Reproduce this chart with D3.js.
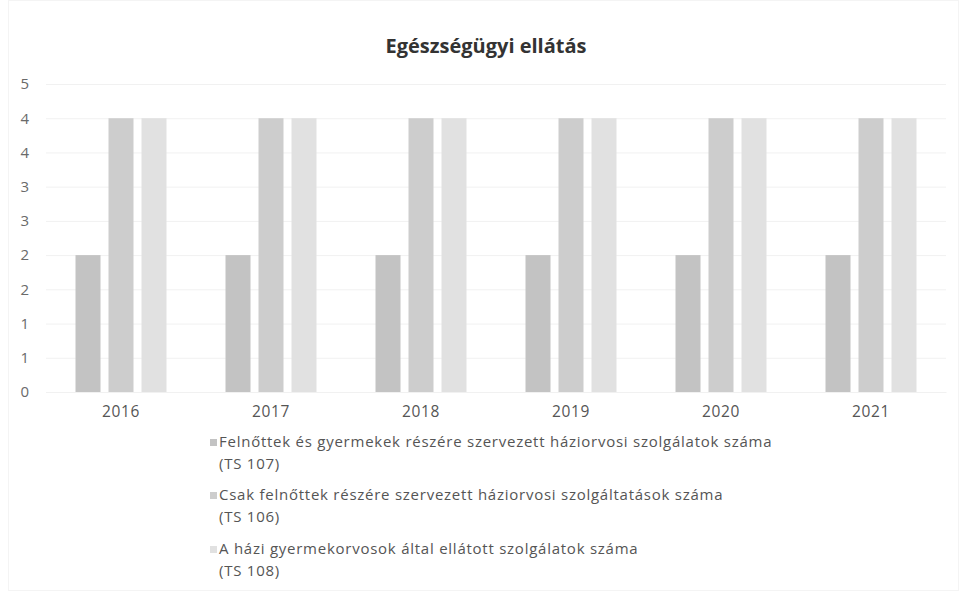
<!DOCTYPE html>
<html>
<head>
<meta charset="utf-8">
<script src="https://cdn.jsdelivr.net/npm/d3@7"></script>
<style>
  body { margin: 0; background: #fff; }
  svg, svg text { font-family: "Open Sans", sans-serif; }
</style>
</head>
<body>
<svg id="chart" width="960" height="593"></svg>
<script>
// data
const years = ['2016', '2017', '2018', '2019', '2020', '2021'];
const seriesNames = [
  ['Felnőttek és gyermekek részére szervezett háziorvosi szolgálatok száma', '(TS 107)'],
  ['Csak felnőttek részére szervezett háziorvosi szolgáltatások száma', '(TS 106)'],
  ['A házi gyermekorvosok által ellátott szolgálatok száma', '(TS 108)']
];
const ts107 = [2, 2, 2, 2, 2, 2];
const ts106 = [4, 4, 4, 4, 4, 4];
const ts108 = [4, 4, 4, 4, 4, 4];
const yTicks = [0, 0.5, 1, 1.5, 2, 2.5, 3, 3.5, 4, 4.5];
const colors = ['#c3c3c3', '#cdcdcd', '#e1e1e1'];

const allSeries = [ts107, ts106, ts108];

const svg = d3.select('#chart');
const margin = { left: 46, right: 14, top: 84, bottom: 201 };
const width = +svg.attr('width');
const height = +svg.attr('height');
const innerWidth = width - margin.left - margin.right;
const innerHeight = height - margin.top - margin.bottom;

// faint outer frame
svg.append('rect')
  .attr('x', 8.5).attr('y', 0.5)
  .attr('width', 950).attr('height', 590)
  .attr('fill', 'none')
  .attr('stroke', '#f4f4f4');

// title
svg.append('text')
  .attr('x', 486)
  .attr('y', 53)
  .attr('text-anchor', 'middle')
  .attr('font-size', 20)
  .attr('font-weight', 'bold')
  .attr('fill', '#333')
  .text('Egészségügyi ellátás');

const g = svg.append('g')
  .attr('transform', `translate(${margin.left},${margin.top})`);

const xScale = d3.scaleBand()
  .domain(years)
  .range([0, innerWidth]);

const yScale = d3.scaleLinear()
  .domain([0, 4.5])
  .range([innerHeight, 0]);

// y axis: Excel shows rounded integer labels
const yAxis = d3.axisLeft(yScale)
  .tickValues(yTicks)
  .tickSize(-innerWidth)
  .tickPadding(17)
  .tickFormat(d => Math.round(d + 1e-9));

const yAxisG = g.append('g').call(yAxis)
  .attr('font-family', '"Open Sans", sans-serif');
yAxisG.select('.domain').remove();
yAxisG.selectAll('line').attr('stroke', '#f1f1f1');
yAxisG.selectAll('text')
  .attr('font-size', 15)
  .attr('fill', '#6a6a6a');

// x axis
const xAxis = d3.axisBottom(xScale).tickSize(0).tickPadding(14);
const xAxisG = g.append('g')
  .attr('transform', `translate(0,${innerHeight})`)
  .call(xAxis)
  .attr('font-family', '"Open Sans", sans-serif');
xAxisG.select('.domain').attr('stroke', '#f1f1f1');
xAxisG.selectAll('text')
  .attr('font-size', 15.5)
  .attr('letter-spacing', 0.6)
  .attr('fill', '#555');

// bars
const barW = 25;
const step = 33;

allSeries.forEach((values, si) => {
  g.append('g')
    .selectAll('rect')
    .data(values)
    .enter().append('rect')
      .attr('x', (d, i) => xScale(years[i]) + xScale.bandwidth() / 2 - (step * 2 + barW) / 2 + si * step)
      .attr('y', d => yScale(d))
      .attr('width', barW)
      .attr('height', d => innerHeight - yScale(d))
      .attr('fill', colors[si]);
});

// legend
const legend = svg.append('g')
  .attr('transform', 'translate(210,0)');
const legendY = [447, 500, 554];
seriesNames.forEach((lines, i) => {
  const item = legend.append('g')
    .attr('transform', `translate(0,${legendY[i]})`);
  item.append('rect')
    .attr('x', 0).attr('y', -8)
    .attr('width', 7).attr('height', 7)
    .attr('fill', colors[i]);
  item.append('text')
    .attr('x', 9)
    .attr('y', 0)
    .attr('font-size', 15)
    .attr('letter-spacing', 0.75)
    .attr('fill', '#555')
    .text(lines[0]);
  item.append('text')
    .attr('x', 9)
    .attr('y', 22)
    .attr('font-size', 15)
    .attr('letter-spacing', 0.75)
    .attr('fill', '#555')
    .text(lines[1]);
});
</script>
</body>
</html>
